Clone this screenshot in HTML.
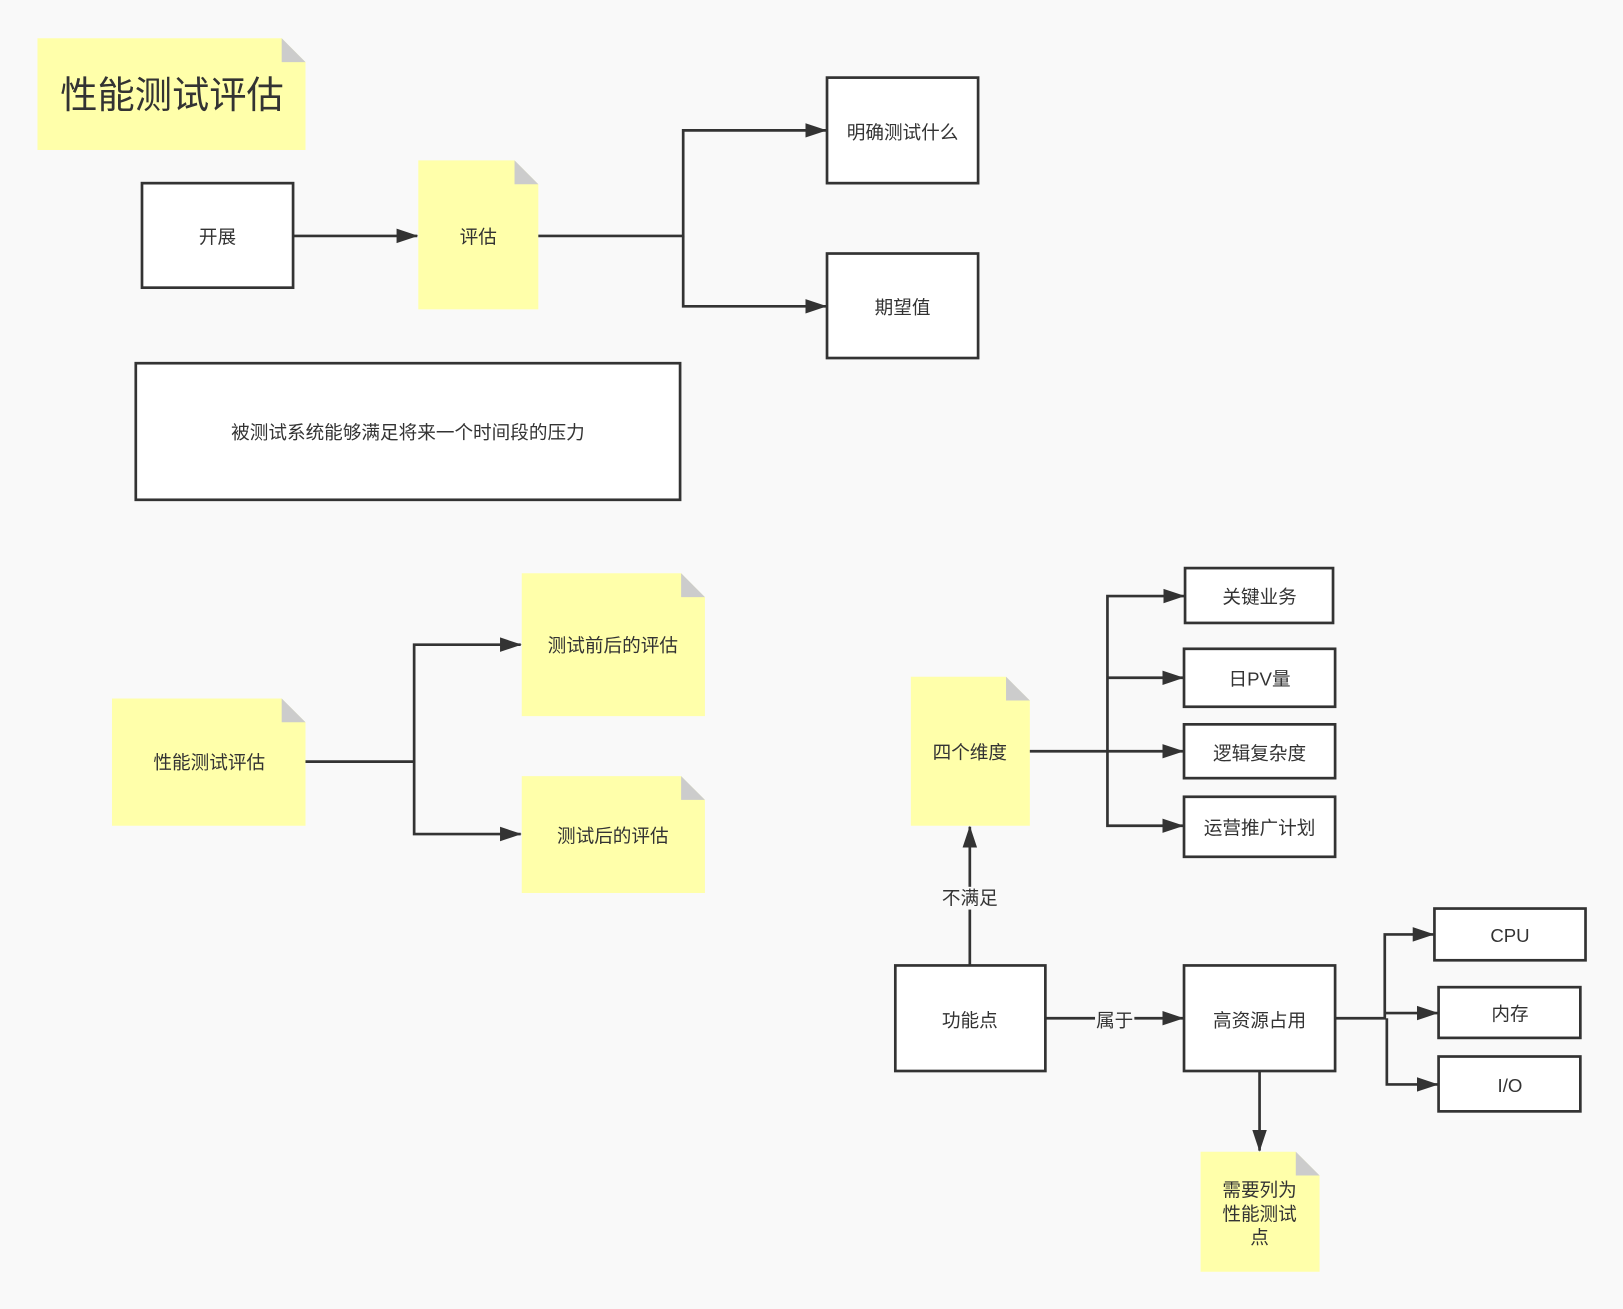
<!DOCTYPE html>
<html><head><meta charset="utf-8"><style>
html,body{margin:0;padding:0;background:#f9f9f9;}
svg{display:block;}
text{font-family:"Liberation Sans","Noto Sans CJK SC",sans-serif;fill:#333;font-size:18px;text-anchor:middle;dominant-baseline:central;}
.b{fill:#fff;stroke:#333;stroke-width:2.6;}
.l{fill:none;stroke:#333;stroke-width:2.6;}
.n{fill:#ffffaa;}
.f{fill:#cccccc;}
</style></head><body>
<svg width="1623" height="1309" viewBox="0 0 1568 1265" xmlns="http://www.w3.org/2000/svg">
<defs><marker id="a" markerWidth="22" markerHeight="18" refX="20" refY="9" orient="auto" markerUnits="userSpaceOnUse"><path d="M0,2 L21,9 L0,16 Z" fill="#333"/></marker></defs>
<rect width="1568" height="1265" fill="#f9f9f9"/>
<!-- notes -->
<g>
<path class="n" d="M36,37 H272 L295,60 V145 H36 Z"/><path class="f" d="M272,37 L295,60 H272 Z"/>
<text x="166" y="92" style="font-size:36px">性能测试评估</text>
<path class="n" d="M404,155 H497 L520,178 V299 H404 Z"/><path class="f" d="M497,155 L520,178 H497 Z"/>
<text x="462" y="229">评估</text>
<path class="n" d="M108,675 H272 L295,698 V798 H108 Z"/><path class="f" d="M272,675 L295,698 H272 Z"/>
<text x="202" y="737">性能测试评估</text>
<path class="n" d="M504,554 H658 L681,577 V692 H504 Z"/><path class="f" d="M658,554 L681,577 H658 Z"/>
<text x="592" y="624">测试前后的评估</text>
<path class="n" d="M504,750 H658 L681,773 V863 H504 Z"/><path class="f" d="M658,750 L681,773 H658 Z"/>
<text x="592" y="808">测试后的评估</text>
<path class="n" d="M880,654 H972 L995,677 V798 H880 Z"/><path class="f" d="M972,654 L995,677 H972 Z"/>
<text x="937" y="727">四个维度</text>
<path class="n" d="M1160,1113 H1252 L1275,1136 V1229 H1160 Z"/><path class="f" d="M1252,1113 L1275,1136 H1252 Z"/>
<text x="1217" y="1150">需要列为</text><text x="1217" y="1173">性能测试</text><text x="1217" y="1196">点</text>
</g>
<!-- boxes -->
<rect class="b" x="137" y="177" width="146" height="101"/><text x="210" y="229">开展</text>
<rect class="b" x="799" y="75" width="146" height="102"/><text x="872" y="128">明确测试什么</text>
<rect class="b" x="799" y="245" width="146" height="101"/><text x="872" y="297">期望值</text>
<rect class="b" x="131" y="351" width="526" height="132"/><text x="394" y="418">被测试系统能够满足将来一个时间段的压力</text>
<rect class="b" x="1145" y="549" width="143" height="53"/><text x="1217" y="577">关键业务</text>
<rect class="b" x="1144" y="627" width="146" height="56"/><text x="1217" y="656">日PV量</text>
<rect class="b" x="1144" y="700" width="146" height="52"/><text x="1217" y="728">逻辑复杂度</text>
<rect class="b" x="1144" y="770" width="146" height="58"/><text x="1217" y="800">运营推广计划</text>
<rect class="b" x="865" y="933" width="145" height="102"/><text x="937" y="986">功能点</text>
<rect class="b" x="1144" y="933" width="146" height="102"/><text x="1217" y="986">高资源占用</text>
<rect class="b" x="1386" y="878" width="146" height="50"/><text x="1459" y="904">CPU</text>
<rect class="b" x="1390" y="954" width="137" height="49"/><text x="1459" y="980">内存</text>
<rect class="b" x="1390" y="1021" width="137" height="53"/><text x="1459" y="1049">I/O</text>
<!-- connectors -->
<path class="l" d="M283,228 H403" marker-end="url(#a)"/>
<path class="l" d="M520,228 H660 V126 H798" marker-end="url(#a)"/>
<path class="l" d="M660,228 V296 H798" marker-end="url(#a)"/>
<path class="l" d="M295,736 H400 V623 H503" marker-end="url(#a)"/>
<path class="l" d="M400,736 V806 H503" marker-end="url(#a)"/>
<path class="l" d="M995,726 H1070 V576 H1144" marker-end="url(#a)"/>
<path class="l" d="M1070,655 H1143" marker-end="url(#a)"/>
<path class="l" d="M1070,726 H1143" marker-end="url(#a)"/>
<path class="l" d="M1070,726 V798 H1143" marker-end="url(#a)"/>
<path class="l" d="M937,933 V799" marker-end="url(#a)"/>
<rect x="905" y="857" width="64" height="22" fill="#f9f9f9"/><text x="937" y="868">不满足</text>
<path class="l" d="M1010,984 H1143" marker-end="url(#a)"/>
<rect x="1058" y="975" width="38" height="22" fill="#f9f9f9"/><text x="1077" y="986">属于</text>
<path class="l" d="M1290,984 H1338 V903 H1385" marker-end="url(#a)"/>
<path class="l" d="M1338,979 H1389" marker-end="url(#a)"/>
<path class="l" d="M1340,984 V1048 H1389" marker-end="url(#a)"/>
<path class="l" d="M1217,1035 V1112" marker-end="url(#a)"/>
</svg>
</body></html>
